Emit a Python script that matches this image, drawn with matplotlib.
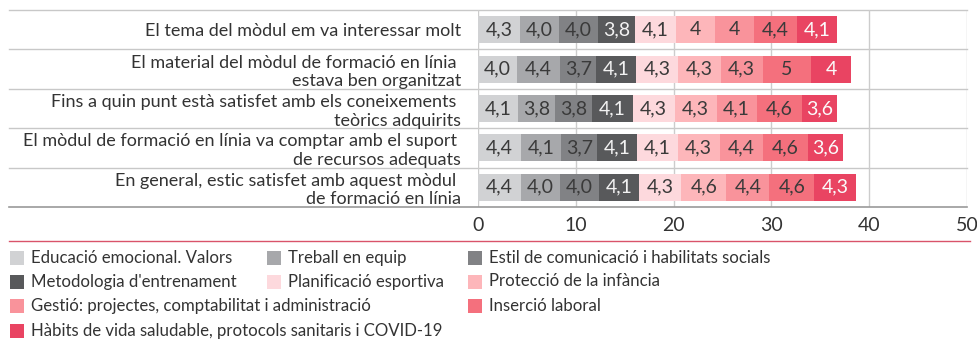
import matplotlib.pyplot as plt
from matplotlib.patches import Rectangle
from matplotlib.lines import Line2D

plt.rcParams['font.family'] = ['Lato', 'DejaVu Sans']

preguntes = [
    "El tema del mòdul em va interessar molt",
    "El material del mòdul de formació en línia \nestava ben organitzat",
    "Fins a quin punt està satisfet amb els coneixements \nteòrics adquirits",
    "El mòdul de formació en línia va comptar amb el suport \nde recursos adequats",
    "En general, estic satisfet amb aquest mòdul \nde formació en línia",
]

moduls = [
    "Educació emocional. Valors",
    "Treball en equip",
    "Estil de comunicació i habilitats socials",
    "Metodologia d'entrenament",
    "Planificació esportiva",
    "Protecció de la infància",
    "Gestió: projectes, comptabilitat i administració",
    "Inserció laboral",
    "Hàbits de vida saludable, protocols sanitaris i COVID-19",
]

# una llista per mòdul, un valor per pregunta (4 i 5 sense decimals tal com es mostren)
educacio = [4.3, 4.0, 4.1, 4.4, 4.4]
treball = [4.0, 4.4, 3.8, 4.1, 4.0]
comunicacio = [4.0, 3.7, 3.8, 3.7, 4.0]
metodologia = [3.8, 4.1, 4.1, 4.1, 4.1]
planificacio = [4.1, 4.3, 4.3, 4.1, 4.3]
proteccio = [4, 4.3, 4.3, 4.3, 4.6]
gestio = [4, 4.3, 4.1, 4.4, 4.4]
insercio = [4.4, 5, 4.6, 4.6, 4.6]
habits = [4.1, 4, 3.6, 3.6, 4.3]
series = [educacio, treball, comunicacio, metodologia, planificacio,
          proteccio, gestio, insercio, habits]

colors = ['#d1d2d4', '#a7a8ab', '#818285', '#58595b', '#fdd9dd',
          '#fdb6ba', '#f9939b', '#f4707d', '#e94462']
text_colors = ['#3a3a3a'] * 3 + ['#f2f2f2'] + ['#3a3a3a'] * 4 + ['#fbfbfb']

W, H = 978, 339
fig = plt.figure(figsize=(W / 100, H / 100), dpi=100)
ax = fig.add_axes([478 / W, 1 - 207 / H, 489 / W, 197 / H])

ypos = list(range(len(preguntes)))
left = [0.0] * len(preguntes)
for vals, col, tcol in zip(series, colors, text_colors):
    bars = ax.barh(ypos, vals, left=left, height=0.69, color=col, linewidth=0)
    labels = [str(v).replace('.', ',') for v in vals]
    ax.bar_label(bars, labels=labels, label_type='center', color=tcol, fontsize=14)
    left = [l + v for l, v in zip(left, vals)]

ax.set_xlim(0, 50)
ax.set_ylim(len(preguntes) - 0.5, -0.5)
ax.set_xticks(range(0, 51, 10))
ax.set_yticks(ypos)
ax.set_yticklabels(preguntes, fontsize=13.0, color='#333333', linespacing=1.2)
ax.tick_params(length=0, axis='y', pad=12)
ax.tick_params(length=0, axis='x', pad=7, labelsize=14, labelcolor='#333333')
ax.grid(axis='x', color='#cccccc', linewidth=1)
ax.set_axisbelow(True)
for s in ax.spines.values():
    s.set_visible(False)

# separadors de files, que arriben fins a les etiquetes
x0 = (9 - 478) / 489
for k in range(len(preguntes)):
    ax.axhline(k - 0.5, xmin=x0, xmax=1, color='#c8c8c8', lw=1, clip_on=False, zorder=0.5)
ax.axhline(len(preguntes) - 0.5, xmin=x0, xmax=1, color='#9a9a9a', lw=1.2, clip_on=False)

fig.add_artist(Line2D([9 / W, 970 / W], [1 - 241 / H] * 2, color='#d9536a', lw=1))

# llegenda en flux de tres columnes
col_x = [10, 267, 468]
row_y = [258, 281.5, 306, 331]
slots = [(0, 0), (0, 1), (0, 2), (1, 0), (1, 1), (1, 2), (2, 0), (2, 2), (3, 0)]
for name, col, (r, c) in zip(moduls, colors, slots):
    x, y = col_x[c], row_y[r]
    fig.add_artist(Rectangle((x / W, 1 - (y + 7) / H), 14 / W, 14 / H,
                             transform=fig.transFigure, color=col, lw=0))
    fig.text((x + 21) / W, 1 - y / H, name, fontsize=12.1, color='#333333',
             va='center', ha='left')

fig.savefig('out.png', dpi=100)
